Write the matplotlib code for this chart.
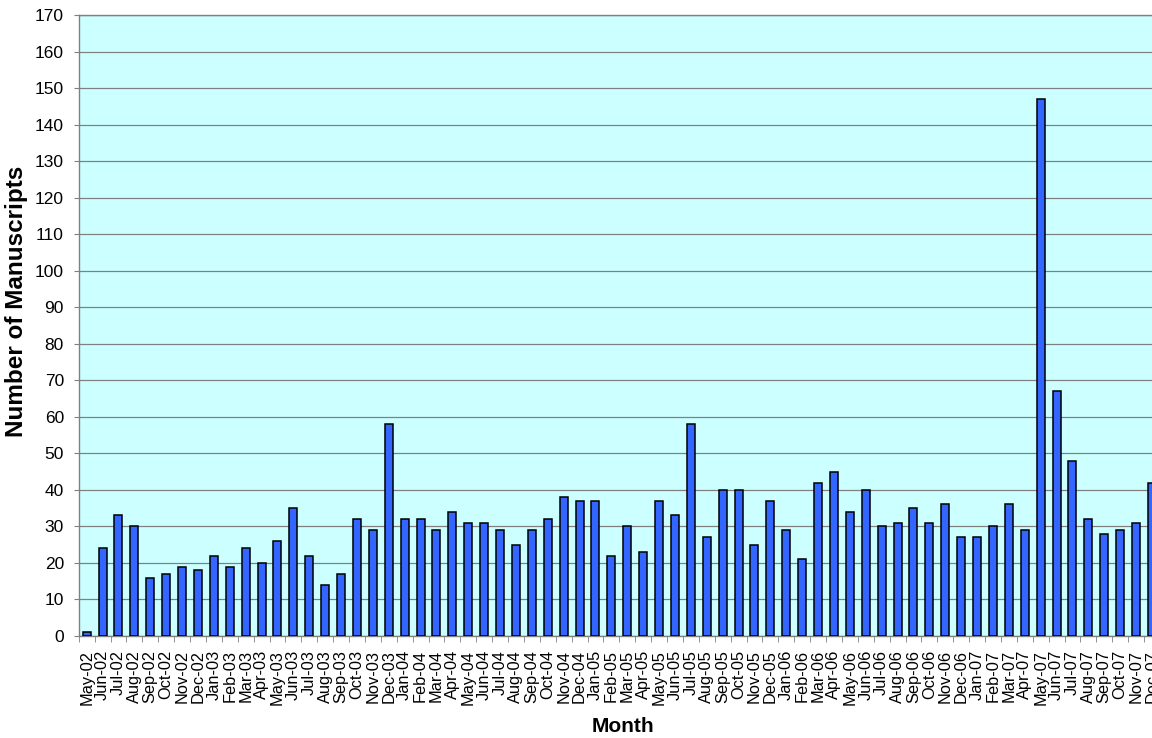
import numpy as np
import matplotlib
matplotlib.use("Agg")
import matplotlib.pyplot as plt

months = ["May-02", "Jun-02", "Jul-02", "Aug-02", "Sep-02", "Oct-02", "Nov-02", "Dec-02",
          "Jan-03", "Feb-03", "Mar-03", "Apr-03", "May-03", "Jun-03", "Jul-03", "Aug-03",
          "Sep-03", "Oct-03", "Nov-03", "Dec-03",
          "Jan-04", "Feb-04", "Mar-04", "Apr-04", "May-04", "Jun-04", "Jul-04", "Aug-04",
          "Sep-04", "Oct-04", "Nov-04", "Dec-04",
          "Jan-05", "Feb-05", "Mar-05", "Apr-05", "May-05", "Jun-05", "Jul-05", "Aug-05",
          "Sep-05", "Oct-05", "Nov-05", "Dec-05",
          "Jan-06", "Feb-06", "Mar-06", "Apr-06", "May-06", "Jun-06", "Jul-06", "Aug-06",
          "Sep-06", "Oct-06", "Nov-06", "Dec-06",
          "Jan-07", "Feb-07", "Mar-07", "Apr-07", "May-07", "Jun-07", "Jul-07", "Aug-07",
          "Sep-07", "Oct-07", "Nov-07", "Dec-07"]

manuscripts = [1, 24, 33, 30, 16, 17, 19, 18,
               22, 19, 24, 20, 26, 35, 22, 14, 17, 32, 29, 58,
               32, 32, 29, 34, 31, 31, 29, 25, 29, 32, 38, 37,
               37, 22, 30, 23, 37, 33, 58, 27, 40, 40, 25, 37,
               29, 21, 42, 45, 34, 40, 30, 31, 35, 31, 36, 27,
               27, 30, 36, 29, 147, 67, 48, 32, 28, 29, 31, 42]

plt.rcParams['font.family'] = ['Liberation Sans', 'DejaVu Sans']

fig = plt.figure(figsize=(11.52, 7.38), dpi=100)
# plot area runs a bit past the right edge, like the cropped original
ax = fig.add_axes([78.7 / 1152, 102 / 738, 1081.2 / 1152, 621 / 738])
ax.set_facecolor('#CCFFFF')

x = np.arange(len(months))
ax.bar(x, manuscripts, width=0.5, color='#3366FF', edgecolor='black', linewidth=1.1, zorder=3)

ax.set_xlim(-0.5, len(months) - 0.5)
ax.set_ylim(0, 170)
ax.set_yticks(range(0, 171, 10))
ax.yaxis.grid(True, color='#808080', linewidth=0.9, zorder=0)

ax.set_xticks(x)
ax.set_xticklabels(months, rotation=90, fontsize=11.8)
ax.set_xticks(np.arange(-0.5, len(months), 1), minor=True)
ax.tick_params(axis='x', which='major', length=0, pad=10)
ax.tick_params(axis='x', which='minor', length=4, color='#808080', direction='out')
ax.tick_params(axis='y', labelsize=12.5, length=3.6, color='#808080', pad=7)

for side in ['left', 'bottom', 'top', 'right']:
    ax.spines[side].set_color('#808080')
    ax.spines[side].set_linewidth(1.0)

fig.text(17 / 1152, 1 - 301.7 / 738, 'Number of Manuscripts', rotation=90,
         ha='center', va='center', fontsize=17.5, fontweight='bold')
fig.text(622.5 / 1152, 1 - 727 / 738, 'Month', ha='center', va='center',
         fontsize=15, fontweight='bold')

plt.savefig('out.png', dpi=100)
